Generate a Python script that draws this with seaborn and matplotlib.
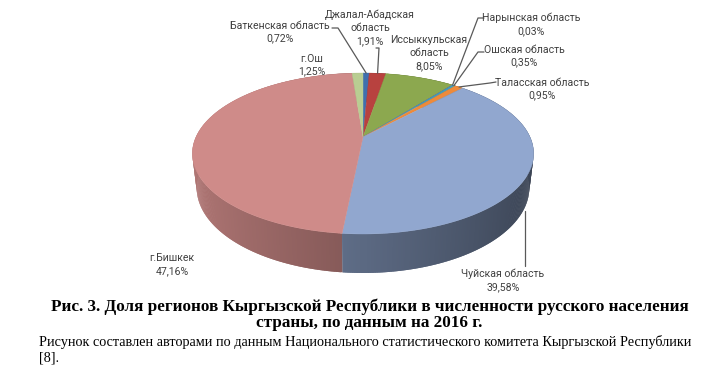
import numpy as np
import matplotlib
matplotlib.use("Agg")
import matplotlib.pyplot as plt
from matplotlib.patches import Polygon
import matplotlib.colors as mcolors
import seaborn as sns

# ---------------- data ----------------
regions = ["Баткенская область", "Джалал-Абадская\nобласть", "Иссыккульская\nобласть",
           "Нарынская область", "Ошская область", "Таласская область",
           "Чуйская область", "г.Бишкек", "г.Ош"]
shares = [0.72, 1.91, 8.05, 0.03, 0.35, 0.95, 39.58, 47.16, 1.25]
slice_colors = ["#3F6FAE", "#B8423F", "#8CA84F", "#7A5E9C", "#3FA0BA", "#EE8A3A",
                "#91A7CF", "#CF8B89", "#B9CD92"]
pct_labels = [f"{s:.2f}".replace(".", ",") + "%" for s in shares]

title_lines = ["Рис. 3. Доля регионов Кыргызской Республики в численности русского населения",
               "страны, по данным на 2016 г."]
note_lines = ["Рисунок составлен авторами по данным Национального статистического комитета Кыргызской Республики",
              "[8]."]

# ---------------- layout ----------------
W, H = 715, 385
X0, Y0, A = 363.0, 137.0, 167.0
SINP, COSP = 0.4617, 0.887
K, M = 0.205, 0.1067
DEPTH = 0.232

label_pos = [(280, 32), (370, 28), (429, 53), (531, 24.5), (524, 56), (542, 89),
             (503, 280.5), (172, 264.5), (312, 65)]
leader_start = [(332, 28), (376, 48), None, (484, 18), (484, 52), (496, 82),
                None, None, None]
leader_elbow = [(338, 28), (379, 48), None, (478, 18), (478, 52), (490, 83),
                None, None, None]

sns.set_theme(style="white")
plt.rcParams["font.family"] = ["Roboto", "DejaVu Sans"]

fig = plt.figure(figsize=(W / 100, H / 100), dpi=100)
ax = fig.add_axes([0, 0, 1, 1])
ax.set_xlim(0, W)
ax.set_ylim(H, 0)
ax.axis("off")


def proj(theta, z):
    u, v = np.sin(theta), np.cos(theta)
    w = 1 + K * v - M * z
    return X0 + A * u / w, Y0 - A * (v * SINP + z * COSP) / w


def shade(col, f):
    r, g, b = mcolors.to_rgb(col)
    return (r * f, g * f, b * f)


fr = np.array(shares) / sum(shares)
starts = np.concatenate([[0], np.cumsum(fr)[:-1]]) * 2 * np.pi
ends = np.cumsum(fr) * 2 * np.pi

# side quads (overlapping slightly to avoid seams)
step = np.radians(0.5)
quads = []
for s, e, c in zip(starts, ends, slice_colors):
    n = max(2, int(np.degrees(e - s) / 0.5))
    th = np.linspace(s, e, n + 1)
    for j, (t1, t2) in enumerate(zip(th[:-1], th[1:])):
        tm = 0.5 * (t1 + t2)
        t2x = t2 + (step if j < n - 1 else 0)
        tt = np.linspace(t1, t2x, 3)
        p = [proj(t, 0) for t in tt] + [proj(t, -DEPTH) for t in tt[::-1]]
        f = 0.63 - 0.23 * np.sin(tm)
        quads.append((np.cos(tm), p, shade(c, f)))
quads.sort(key=lambda q: -q[0])
for _, p, col in quads:
    ax.add_patch(Polygon(p, closed=True, facecolor=col, edgecolor="none", lw=0))

# top faces
for s, e, c in zip(starts, ends, slice_colors):
    n = max(2, int(np.degrees(e - s) / 0.5))
    th = np.linspace(s, e, n + 1)
    pts = [(X0, Y0)] + [proj(t, 0) for t in th]
    ax.add_patch(Polygon(pts, closed=True, facecolor=c, edgecolor=c, lw=0.3))

# labels
txt_col = "#404040"
for i, (name, pct) in enumerate(zip(regions, pct_labels)):
    x, y = label_pos[i]
    ax.text(x, y, name + "\n" + pct, ha="center", va="center", fontsize=7.6,
            color=txt_col, linespacing=1.35)
    mid = 0.5 * (starts[i] + ends[i])
    if leader_start[i] is not None:
        ax_, ay_ = proj(mid, 0)
        xs = [leader_start[i][0], leader_elbow[i][0], ax_]
        ys = [leader_start[i][1], leader_elbow[i][1], ay_]
        ax.plot(xs, ys, color="#595959", lw=0.9)

# Чуйская leader from bottom of the side
i = 6
mid = 0.5 * (starts[i] + ends[i])
bx, by = proj(mid, -DEPTH)
ax.plot([bx, bx], [by + 3, 266], color="#595959", lw=0.9)

# caption
serif = ["Liberation Serif", "DejaVu Serif"]
ax.text(370, 307, title_lines[0], ha="center", va="center", fontsize=12.35,
        fontweight="bold", family=serif, color="black")
ax.text(369, 323, title_lines[1], ha="center", va="center", fontsize=12.35,
        fontweight="bold", family=serif, color="black")
ax.text(39, 342, note_lines[0], ha="left", va="center", fontsize=10.25,
        family=serif, color="black")
ax.text(39, 358, note_lines[1], ha="left", va="center", fontsize=10.25,
        family=serif, color="black")

fig.savefig("out.png", dpi=100, facecolor="white")
